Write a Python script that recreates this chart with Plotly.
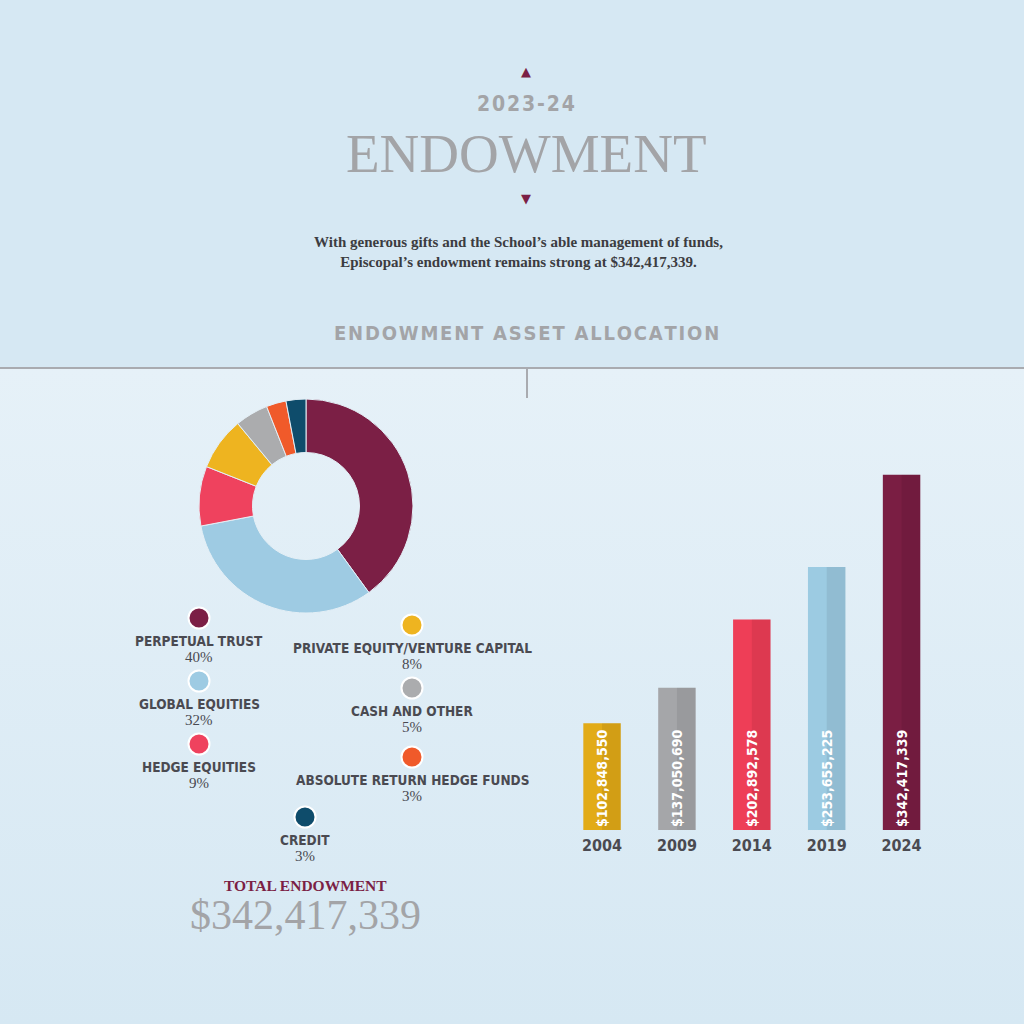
import plotly.graph_objects as go

# asset allocation
asset_names = ["PERPETUAL TRUST", "GLOBAL EQUITIES", "HEDGE EQUITIES",
               "PRIVATE EQUITY/VENTURE CAPITAL", "CASH AND OTHER",
               "ABSOLUTE RETURN HEDGE FUNDS", "CREDIT"]
asset_pct = [40, 32, 9, 8, 5, 3, 3]
asset_colors = ["#7b1f45", "#9ecbe3", "#ef425e", "#eeb420", "#abacae", "#f05a2a", "#0e4c6b"]

# endowment growth
years = ["2004", "2009", "2014", "2019", "2024"]
endowment = [102848550, 137050690, 202892578, 253655225, 342417339]
bar_colors = ["#e2ab17", "#a5a6a9", "#ee3e57", "#9ccbe2", "#7a1e43"]

# legend layout (page pixels)
legend_x = [199, 199, 199, 412, 412, 412, 305]
legend_y = [618, 681, 744, 625, 688, 757, 817]

W = H = 1024
SANS = "Liberation Sans Narrow, DejaVu Sans Condensed, Arial Narrow, sans-serif"
SERIF = "Liberation Serif, DejaVu Serif, serif"
DARK = "#4a4a51"
GREY = "#a3a4a7"
MAROON = "#7b1f45"


def px(x):
    return x / W


def py(y):
    return 1 - y / H


def spaced(s):
    return "\u200A".join(s)


fig = go.Figure()

# background gradient for the lower panel (page axis)
fig.add_trace(go.Scatter(
    x=[0, W, W, 0, 0], y=[368, 368, H, H, 368], mode="lines", line=dict(width=0),
    fill="toself", hoverinfo="skip", showlegend=False,
    fillgradient=dict(type="vertical", colorscale=[[0, "#d6e8f3"], [1, "#e6f1f8"]]),
    xaxis="x", yaxis="y"))

# legend dots
fig.add_trace(go.Scatter(
    x=legend_x, y=legend_y, mode="markers", hoverinfo="skip", showlegend=False,
    marker=dict(size=21, color=asset_colors, line=dict(color="white", width=2)),
    xaxis="x", yaxis="y"))

# donut
fig.add_trace(go.Pie(
    values=asset_pct, labels=asset_names, hole=0.5, sort=False, direction="clockwise",
    marker=dict(colors=asset_colors, line=dict(color="#e4eff6", width=1)),
    textinfo="none", showlegend=False,
    domain=dict(x=[px(199), px(413)], y=[py(613), py(399)])))

# bars: base, right-side shading, labels
fig.add_trace(go.Bar(x=years, y=endowment, marker=dict(color=bar_colors, line=dict(width=0)),
                     width=0.5, offset=-0.25, showlegend=False, hoverinfo="skip",
                     xaxis="x2", yaxis="y2"))
fig.add_trace(go.Bar(x=years, y=endowment, marker=dict(color="rgba(0,0,0,0.07)", line=dict(width=0)),
                     width=0.25, offset=0, showlegend=False, hoverinfo="skip",
                     xaxis="x2", yaxis="y2"))
fig.add_trace(go.Bar(x=years, y=endowment, marker=dict(color="rgba(0,0,0,0)", line=dict(width=0)),
                     width=0.5, offset=-0.25, showlegend=False,
                     text=[f"${v:,}" for v in endowment], textposition="inside",
                     insidetextanchor="start", textangle=-90, constraintext="none",
                     textfont=dict(family=SANS, size=14, color="white", weight="bold"),
                     hovertemplate="%{x}: $%{y:,}<extra></extra>",
                     xaxis="x2", yaxis="y2"))

annotations = []


def note(text, x, y, size, color, family, weight="normal", xref="x", yref="y"):
    annotations.append(dict(text=text, x=x, y=y, xref=xref, yref=yref, showarrow=False,
                            xanchor="center", yanchor="middle", align="center",
                            font=dict(size=size, color=color, family=family, weight=weight)))


# header
note("\u25B2", 526, 71, 13, MAROON, "DejaVu Sans")
note(spaced("2023-24"), 526, 104, 21, GREY, SANS, "bold")
note("ENDOWMENT", 526, 153, 55, GREY, SERIF)
note("\u25BC", 526, 198, 13, MAROON, "DejaVu Sans")
note("With generous gifts and the School\u2019s able management of funds,<br>"
     "Episcopal\u2019s endowment remains strong at $342,417,339.",
     518, 252, 15, "#3c3c41", SERIF, "bold")
note(spaced("ENDOWMENT ASSET ALLOCATION"), 526, 333, 20, GREY, SANS, "bold")

# legend labels
for name, pct, x, y in zip(asset_names, asset_pct, legend_x, legend_y):
    note(name, x, y + 23, 13.5, DARK, SANS, "bold")
    note(f"{pct}%", x, y + 39, 15, DARK, SERIF)

# total
note("TOTAL ENDOWMENT", 305, 885, 15.5, MAROON, SERIF, "bold")
note(f"${endowment[-1]:,}", 305, 915, 42, GREY, SERIF)

shapes = [
    # donut shadow and inner ring
    dict(type="circle", xref="paper", yref="paper", layer="below",
         x0=px(203), x1=px(419), y0=py(617), y1=py(401), fillcolor="#c9e0ee", line=dict(width=0)),
    dict(type="circle", xref="paper", yref="paper", layer="below",
         x0=px(249), x1=px(362), y0=py(563), y1=py(450), fillcolor="#c9e0ee", line=dict(width=0)),
    dict(type="circle", xref="paper", yref="paper", layer="below",
         x0=px(253), x1=px(361), y0=py(560), y1=py(454), fillcolor="#e5f0f7", line=dict(width=0)),
    # dividers
    dict(type="line", xref="paper", yref="paper", x0=0, x1=1, y0=py(368), y1=py(368),
         line=dict(color="#a9abb0", width=2)),
    dict(type="line", xref="paper", yref="paper", x0=px(527), x1=px(527), y0=py(368), y1=py(398),
         line=dict(color="#a9abb0", width=2)),
]

fig.update_layout(
    width=W, height=H, margin=dict(l=0, r=0, t=0, b=0),
    paper_bgcolor="#d6e8f3", plot_bgcolor="rgba(0,0,0,0)",
    barmode="overlay", showlegend=False,
    annotations=annotations, shapes=shapes,
    xaxis=dict(range=[0, W], domain=[0, 1], visible=False, fixedrange=True),
    yaxis=dict(range=[H, 0], domain=[0, 1], visible=False, fixedrange=True),
    xaxis2=dict(domain=[px(564.6), px(939)], anchor="y2", type="category",
                showgrid=False, zeroline=False, showline=False, ticks="",
                ticklabelstandoff=4,
                tickfont=dict(family=SANS, size=16, color=DARK, weight="bold")),
    yaxis2=dict(domain=[py(830), py(467)], anchor="x2", range=[0, 350e6],
                visible=False, showgrid=False, zeroline=False),
)

fig.write_html("out.html", config={"displayModeBar": False},
               post_script="document.body.style.margin='0';document.body.style.background='#d6e8f3';")
